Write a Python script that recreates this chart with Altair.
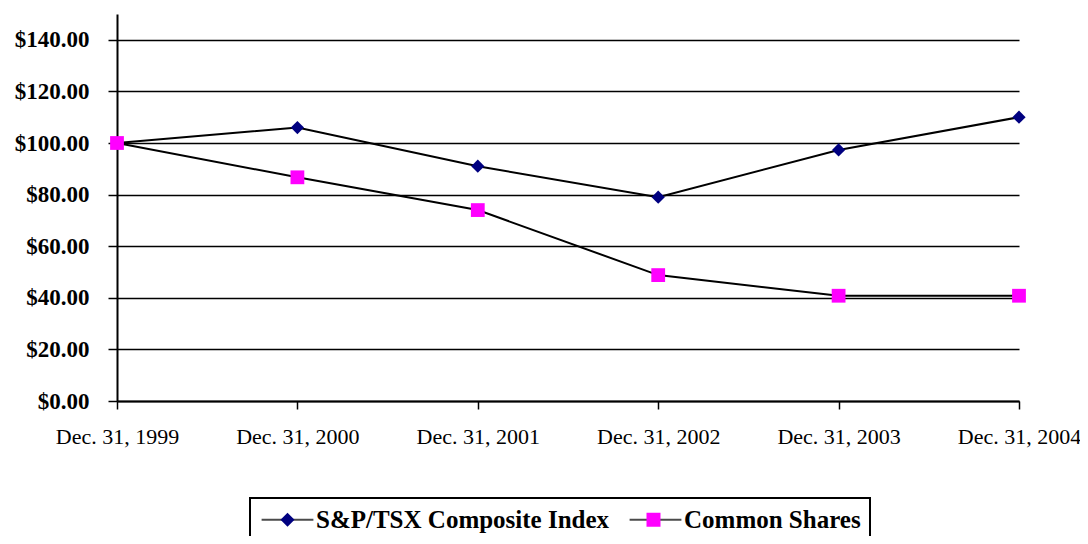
import altair as alt
import pandas as pd

dates = ["Dec. 31, 1999", "Dec. 31, 2000", "Dec. 31, 2001",
         "Dec. 31, 2002", "Dec. 31, 2003", "Dec. 31, 2004"]
series_names = ["S&P/TSX Composite Index", "Common Shares"]
sp_tsx = [100, 106, 91, 79, 97.3, 110]
common_shares = [100, 86.7, 74, 48.8, 40.8, 40.8]
marker_colors = ["#000080", "#FF00FF"]
marker_shapes = ["diamond", "square"]
y_ticks = [0, 20, 40, 60, 80, 100, 120, 140]

rows = []
for d, v in zip(dates, sp_tsx):
    rows.append({"date": d, "series": series_names[0], "value": v})
for d, v in zip(dates, common_shares):
    rows.append({"date": d, "series": series_names[1], "value": v})
df = pd.DataFrame(rows)

FONT = "Liberation Serif"

x = alt.X("date:N", sort=dates,
          scale=alt.Scale(type="point", padding=0),
          axis=alt.Axis(title=None, labelAngle=0, labelFont=FONT, labelFontSize=22,
                        labelColor="black", tickSize=8, tickColor="black", tickWidth=1.5,
                        domainColor="black", domainWidth=2, labelPadding=17, grid=False))
y = alt.Y("value:Q",
          scale=alt.Scale(domain=[0, 150], nice=False, zero=True),
          axis=alt.Axis(values=y_ticks, format="$.2f", title=None, labelFont=FONT,
                        labelFontWeight="bold", labelFontSize=23, labelColor="black",
                        tickSize=9, tickColor="black", tickWidth=1.5,
                        domainColor="black", domainWidth=2, labelPadding=19,
                        grid=True, gridColor="black", gridWidth=1.5, gridOpacity=1))

base = alt.Chart(df)

lines = base.mark_line(color="black", strokeWidth=2).encode(x=x, y=y, detail="series:N")

pts_sp = base.transform_filter(alt.datum.series == series_names[0]).mark_point(
    filled=True, shape="diamond", size=175, color=marker_colors[0], opacity=1, strokeWidth=0
).encode(x=x, y=y)
pts_cs = base.transform_filter(alt.datum.series == series_names[1]).mark_point(
    filled=True, shape="square", size=190, color=marker_colors[1], opacity=1, strokeWidth=0
).encode(x=x, y=y)

leg_common = dict(orient="none", legendX=133, legendY=484, direction="horizontal",
                  title=None, labelFont=FONT, labelFontSize=25, labelFontWeight="bold",
                  labelColor="black", labelLimit=600, symbolSize=196,
                  padding=9, symbolOffset=16, labelOffset=16,
                  columnPadding=15, columns=2)

line_path = "M-3.7,0H3.7"
leg_a = base.transform_filter("false").transform_calculate(s2="datum.series").mark_point(
    filled=False, color="black", strokeWidth=2
).encode(
    x=x, y=y,
    shape=alt.Shape("s2:N", scale=alt.Scale(domain=series_names, range=[line_path, line_path]),
                    legend=alt.Legend(strokeColor="black", symbolStrokeColor="black",
                                      symbolStrokeWidth=2, **leg_common))
)

leg_b = base.transform_filter("false").mark_point(filled=True, opacity=1).encode(
    x=x, y=y,
    color=alt.Color("series:N", scale=alt.Scale(domain=series_names, range=marker_colors),
                    legend=alt.Legend(labelOpacity=0, symbolStrokeWidth=2, **leg_common)),
    shape=alt.Shape("series:N", scale=alt.Scale(domain=series_names, range=marker_shapes),
                    legend=alt.Legend(labelOpacity=0, symbolStrokeWidth=2, **leg_common)),
)

chart = alt.layer(lines, pts_sp, pts_cs, leg_a, leg_b).resolve_scale(
    shape="independent", color="independent"
).properties(
    width=902, height=387,
    autosize=alt.AutoSizeParams(type="none"),
    padding={"left": 109, "top": 6, "right": 61, "bottom": 135},
    background="white",
).configure(font=FONT).configure_view(stroke=None).configure_legend(
    labelFont=FONT, labelFontWeight="bold", labelFontSize=25, strokeWidth=2
)

chart.save("out.html", embed_options={"renderer": "svg", "actions": False})
